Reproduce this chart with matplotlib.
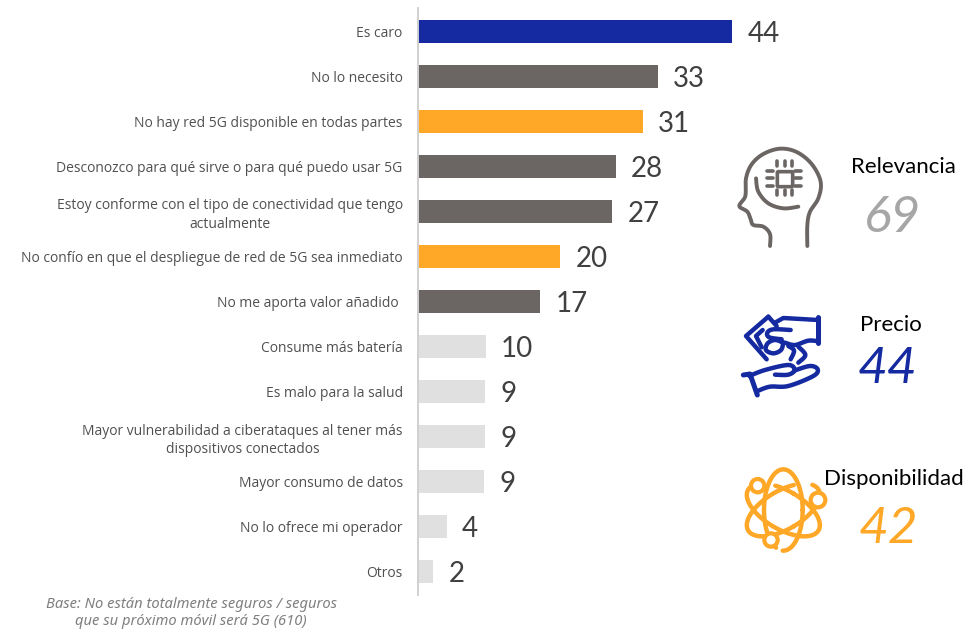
import numpy as np
import matplotlib
matplotlib.use('Agg')
import matplotlib.pyplot as plt
from matplotlib.patches import Circle, FancyBboxPatch

categories = ['Es caro', 'No lo necesito', 'No hay red 5G disponible en todas partes',
              'Desconozco para qué sirve o para qué puedo usar 5G',
              'Estoy conforme con el tipo de conectividad que tengo\nactualmente',
              'No confío en que el despliegue de red de 5G sea inmediato',
              'No me aporta valor añadido ', 'Consume más batería', 'Es malo para la salud',
              'Mayor vulnerabilidad a ciberataques al tener más\ndispositivos conectados',
              'Mayor consumo de datos', 'No lo ofrece mi operador', 'Otros']
# bar lengths as measured, the printed labels are rounded
bar_values = [44, 33.6, 31.5, 27.7, 27.2, 19.9, 17.1, 9.5, 9.4, 9.4, 9.3, 4.0, 2.1]
value_labels = ['44', '33', '31', '28', '27', '20', '17', '10', '9', '9', '9', '4', '2']

BLUE = '#152AA0'
DARK = '#6B6664'
ORANGE = '#FFA726'
LIGHT = '#E0E0E0'
bar_colors = [BLUE, DARK, ORANGE, DARK, DARK, ORANGE, DARK, LIGHT, LIGHT, LIGHT, LIGHT, LIGHT, LIGHT]

summary_names = ['Relevancia', 'Precio', 'Disponibilidad']
summary_values = ['69', '44', '42']
summary_colors = ['#A6A6A6', BLUE, ORANGE]

W, H = 968, 630
LABEL_FONT = 'Open Sans'
NUM_FONT = 'Lato'


def smooth(points, n=12):
    '''Catmull-Rom through the points, used for the icon outlines'''
    p = np.array(points, dtype=float)
    p = np.vstack([p[0], p, p[-1]])
    out = []
    for i in range(1, len(p) - 2):
        for t in np.linspace(0, 1, n, endpoint=False):
            a = 2 * p[i] + (p[i + 1] - p[i - 1]) * t
            b = (2 * p[i - 1] - 5 * p[i] + 4 * p[i + 1] - p[i + 2]) * t ** 2
            c = (-p[i - 1] + 3 * p[i] - 3 * p[i + 1] + p[i + 2]) * t ** 3
            out.append(0.5 * (a + b + c))
    out.append(p[-2])
    return np.array(out)


def stroke(ov, points, origin, color, lw=2.8, curved=True):
    # points are in 3x zoomed pixels relative to origin
    pts = smooth(points) if curved else np.array(points, dtype=float)
    ov.plot(origin[0] + pts[:, 0] / 3, origin[1] + pts[:, 1] / 3, color=color, lw=lw,
            solid_capstyle='round', solid_joinstyle='round')


def draw_head(ov):
    o = (720, 130)
    stroke(ov, [(150, 348), (150, 312), (130, 290), (100, 285), (92, 268), (82, 245), (58, 228),
                (76, 198), (78, 145), (95, 103), (130, 72), (180, 56), (230, 66), (275, 102),
                (302, 155), (295, 205), (270, 245), (262, 285), (262, 348)], o, DARK)
    stroke(ov, [(108, 145), (115, 185), (145, 220), (190, 235), (235, 230)], o, DARK)
    ov.add_patch(FancyBboxPatch((720 + 172 / 3, 130 + 125 / 3), 46 / 3, 45 / 3,
                                boxstyle='round,pad=0,rounding_size=1', fc='none', ec=DARK, lw=2.6))
    for k in (172, 194, 216):
        stroke(ov, [(k, 94), (k, 108)], o, DARK, lw=2.6, curved=False)
        stroke(ov, [(k, 180), (k, 194)], o, DARK, lw=2.6, curved=False)
    for k in (123, 145, 167):
        stroke(ov, [(140, k), (158, k)], o, DARK, lw=2.6, curved=False)
        stroke(ov, [(226, k), (242, k)], o, DARK, lw=2.6, curved=False)


def draw_hands(ov):
    o = (720, 300)
    # upper hand and the note it holds
    stroke(ov, [(145, 50), (78, 108), (140, 178)], o, BLUE, lw=3.2, curved=False)
    stroke(ov, [(145, 50), (170, 78)], o, BLUE, lw=3.2, curved=False)
    stroke(ov, [(165, 68), (190, 54), (295, 60)], o, BLUE, lw=3.2, curved=False)
    stroke(ov, [(295, 50), (295, 130)], o, BLUE, lw=3.6, curved=False)
    stroke(ov, [(295, 124), (265, 122), (225, 135), (195, 128)], o, BLUE, lw=3.2)
    stroke(ov, [(212, 90), (160, 88), (142, 98), (148, 112), (185, 118)], o, BLUE, lw=3.2)
    stroke(ov, [(128, 90), (108, 108), (125, 142)], o, BLUE, lw=3.2, curved=False)
    # coin
    stroke(ov, [(190, 128), (165, 120), (143, 130), (138, 150), (160, 160), (183, 150), (190, 128)], o, BLUE, lw=3.2)
    stroke(ov, [(205, 138), (222, 152), (212, 178)], o, BLUE, lw=3.2)
    stroke(ov, [(235, 140), (256, 165), (235, 188)], o, BLUE, lw=3.2)
    # lower hand
    stroke(ov, [(70, 225), (90, 222), (112, 285)], o, BLUE, lw=3.6, curved=False)
    stroke(ov, [(88, 228), (135, 210), (205, 195), (224, 210), (205, 224), (165, 224)], o, BLUE, lw=3.2)
    stroke(ov, [(222, 212), (270, 198), (293, 208), (280, 228), (205, 258), (150, 260), (115, 272)], o, BLUE, lw=3.2)


def draw_atom(ov):
    t = np.radians(np.arange(0, 361, 4))
    cx, cy = 190, 165
    for angle, gap in ((0, (95, 110)), (60, (215, 245)), (-60, (300, 330))):
        x = 58 * np.cos(t)
        y = 122 * np.sin(t)
        a = np.radians(angle)
        xr = cx + x * np.cos(a) - y * np.sin(a)
        yr = cy + x * np.sin(a) + y * np.cos(a)
        keep = ~((np.degrees(t) > gap[0]) & (np.degrees(t) < gap[1]))
        xr = np.where(keep, xr, np.nan)
        yr = np.where(keep, yr, np.nan)
        ov.plot(720 + xr / 3, 455 + yr / 3, color=ORANGE, lw=3.2, solid_capstyle='round')
    for (x, y, r) in ((113, 92, 20), (294, 135, 22), (153, 255, 20)):
        ov.add_patch(Circle((720 + x / 3, 455 + y / 3), r / 3, fc='white', ec=ORANGE, lw=3, zorder=3))


fig = plt.figure(figsize=(W / 100, H / 100), dpi=100, facecolor='white')

ax = fig.add_axes([418 / W, 1 - 594.5 / H, (W - 418) / W, (594 - 8) / H])
positions = np.arange(len(categories))
bars = ax.barh(positions, bar_values, height=23 / 45, color=bar_colors)
ax.set_xlim(0, (W - 418) / 7.136)
ax.set_ylim(12.51, -0.51)
ax.set_yticks(positions, categories)
ax.set_xticks([])
ax.tick_params(axis='y', length=0, pad=11, labelsize=10, labelcolor='#505050')
for lab in ax.get_yticklabels():
    lab.set_family(LABEL_FONT)
    lab.set_multialignment('center')
    lab.set_linespacing(1.35)
for side in ('top', 'right', 'bottom'):
    ax.spines[side].set_visible(False)
ax.spines['left'].set_color('#D0D0D0')
ax.spines['left'].set_linewidth(1.4)
value_texts = ax.bar_label(bars, labels=value_labels, padding=11, fontsize=20, color='#404040', family=NUM_FONT)
for t in value_texts:
    t.xyann = (t.xyann[0], -2)

# overlay in pixel coordinates for the icons and the right hand column
ov = fig.add_axes([0, 0, 1, 1])
ov.set_xlim(0, W)
ov.set_ylim(H, 0)
ov.axis('off')
ov.patch.set_alpha(0)

draw_head(ov)
draw_hands(ov)
draw_atom(ov)

name_pos = [(903, 167), (891, 325), (894, 479)]
value_pos = [(892, 218), (887, 369), (888, 529)]
for i in range(3):
    ov.text(name_pos[i][0], name_pos[i][1], summary_names[i], ha='center', va='center',
            fontsize=16, color='black', family=NUM_FONT)
    ov.text(value_pos[i][0], value_pos[i][1], summary_values[i], ha='center', va='center',
            fontsize=37, color=summary_colors[i], family=NUM_FONT, style='italic')

ov.text(191, 613, 'Base: No están totalmente seguros / seguros\nque su próximo móvil será 5G (610)',
        ha='center', va='center', fontsize=10.6, color='#7F7F7F', style='italic',
        family='Noto Sans', linespacing=1.15)

fig.savefig('out.png', dpi=100)
